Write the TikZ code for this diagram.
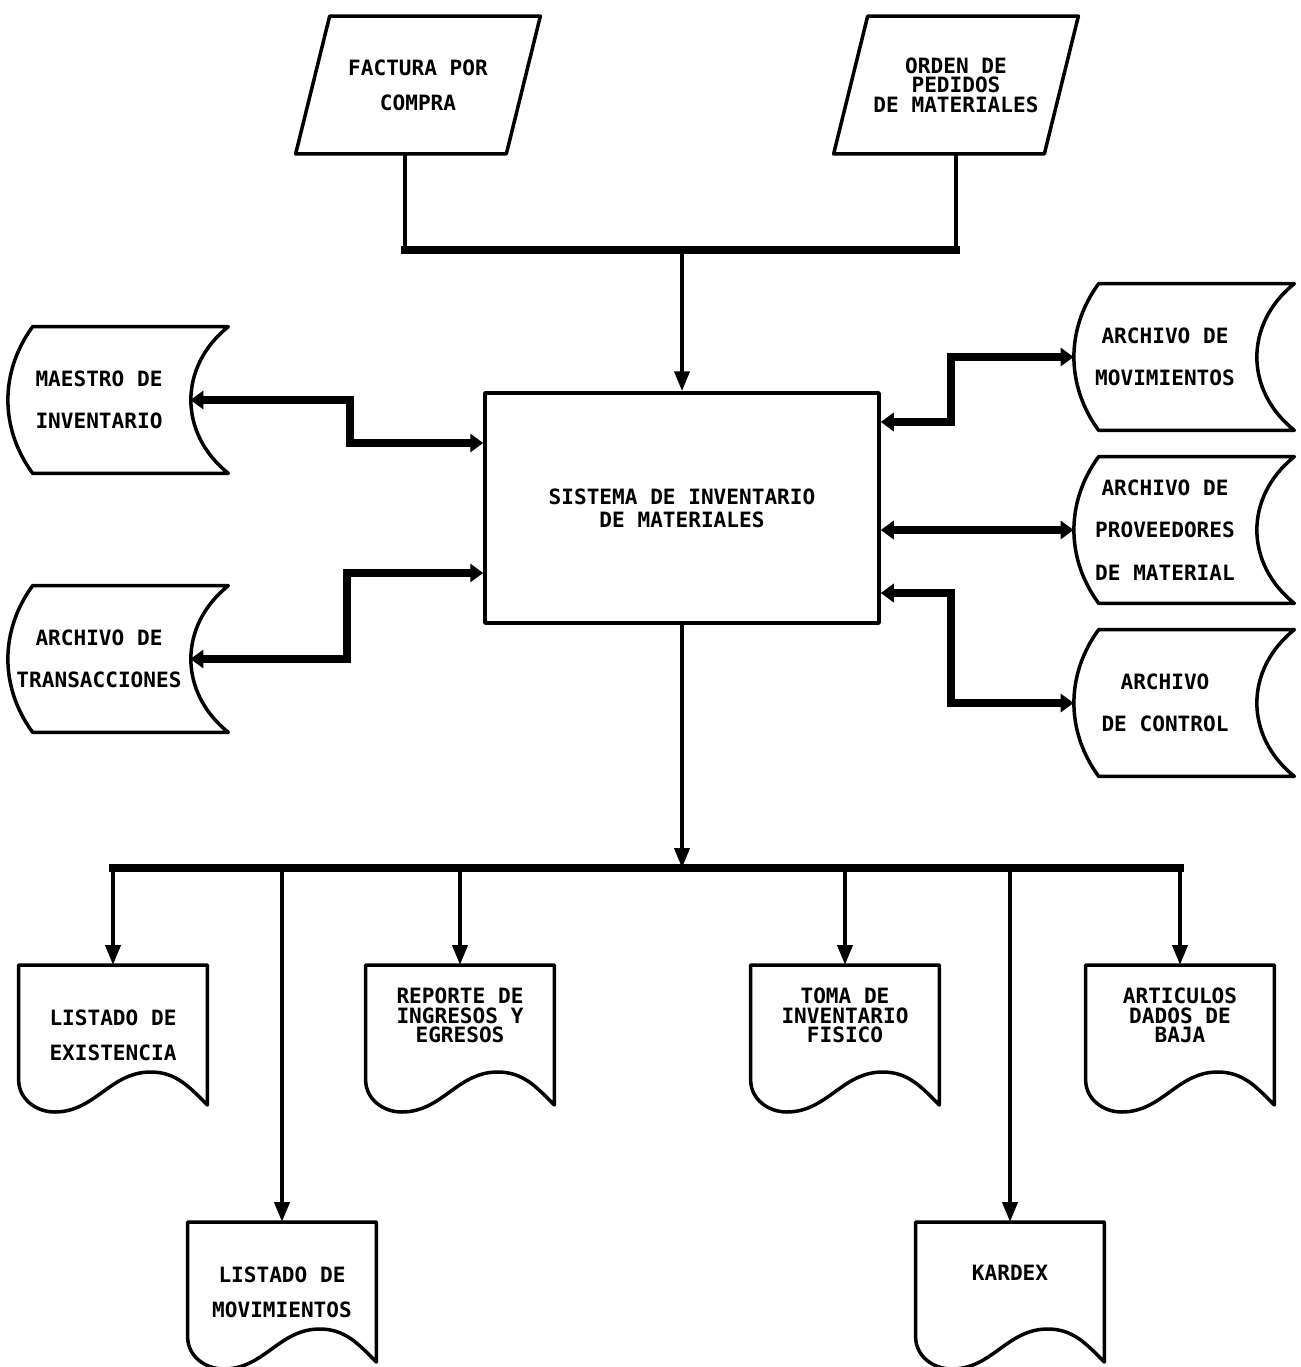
\documentclass[tikz,border=0pt]{standalone}
\usepackage{fontspec}
\newfontfamily\dosfont{DejaVu Sans Mono}
\usetikzlibrary{calc,arrows.meta,positioning}

\tikzset{
  borde/.style={line width=0.7mm, line join=round},
  fina/.style={line width=0.8mm},
  gruesa/.style={line width=1.6mm, line cap=rect},
  flecha/.style={-{Triangle[length=4mm,width=3mm]}},
  doble/.style={line width=1.6mm, {Triangle[length=2.6mm,width=3.6mm]}-{Triangle[length=2.6mm,width=3.6mm]}},
  junta/.style={font=\dosfont\bfseries\fontsize{12}{11}\selectfont, align=center},
  suelta/.style={font=\dosfont\bfseries\fontsize{12}{20}\selectfont, align=center},
  ancha/.style={font=\dosfont\bfseries\fontsize{12}{24}\selectfont, align=center},
  entrada/.style={minimum width=42mm, minimum height=27.4mm, inner sep=2pt},
  proceso/.style={draw, borde, minimum width=78.8mm, minimum height=46mm},
  archivo/.style={ancha, minimum width=36.4mm, minimum height=29.2mm, inner sep=2pt},
  documento/.style={anchor=north, minimum width=37.6mm, minimum height=28mm, inner sep=2pt},
  documento corto/.style={documento, minimum height=20mm}
}

\begin{document}
\begin{tikzpicture}[x=0.2mm,y=-0.2mm]
  \useasboundingbox (0,0) rectangle (1300,1367);

  % entradas
  \node[entrada,suelta] (factura) at (418,85) {FACTURA POR\\COMPRA};
  \node[entrada,junta] (orden) at (956,85) {ORDEN DE\\PEDIDOS\\DE MATERIALES};
  \foreach \e in {factura,orden}
    \draw[borde] ($(\e.north west)+(17,0)$) -- ($(\e.north east)+(17,0)$)
      -- ($(\e.south east)+(-17,0)$) -- ($(\e.south west)+(-17,0)$) -- cycle;

  % proceso
  \node[proceso,junta] (sistema) at (682,508) {SISTEMA DE INVENTARIO\\[2pt]DE MATERIALES};

  % archivos
  \node[archivo] (maestro) at (99,400) {MAESTRO DE\\INVENTARIO};
  \node[archivo] (transac) at (99,659) {ARCHIVO DE\\TRANSACCIONES};
  \node[archivo] (movim) at (1165,357) {ARCHIVO DE\\MOVIMIENTOS};
  \node[archivo] (proveed) at (1165,530) {ARCHIVO DE\\PROVEEDORES\\DE MATERIAL};
  \node[archivo] (control) at (1165,703) {ARCHIVO\\DE CONTROL};
  \foreach \n in {maestro,transac,movim,proveed,control}
    \draw[borde] ($(\n.north west)+(25,0)$) -- ($(\n.north east)+(38,0)$)
      .. controls +(-50,40) and +(-50,-40) .. ($(\n.south east)+(38,0)$)
      -- ($(\n.south west)+(25,0)$)
      .. controls +(-33,-45) and +(-33,45) .. ($(\n.north west)+(25,0)$) -- cycle;

  % reportes
  \node[documento,suelta] (existencia) at (113,965) {LISTADO DE\\EXISTENCIA};
  \node[documento corto,junta] (reporte) at (460,965) {REPORTE DE\\INGRESOS Y\\EGRESOS};
  \node[documento corto,junta] (toma) at (845,965) {TOMA DE\\INVENTARIO\\FISICO};
  \node[documento corto,junta] (articulos) at (1180,965) {ARTICULOS\\DADOS DE\\BAJA};
  \node[documento,suelta] (movlist) at (282,1222) {LISTADO DE\\MOVIMIENTOS};
  \node[documento corto,suelta] (kardex) at (1010,1222) {KARDEX};
  \foreach \d in {existencia,reporte,toma,articulos,movlist,kardex}
    \draw[borde] (\d.north west) -- (\d.north east) -- ($(\d.north east)+(0,140)$)
      to[out=135,in=0] ($(\d.north west)+(132,107)$)
      to[out=180,in=0] ($(\d.north west)+(36,147)$)
      to[out=180,in=-90] ($(\d.north west)+(0,115)$) -- cycle;

  % conexiones
  \coordinate (barra) at (682,250);
  \coordinate (bajo) at (682,868);
  \coordinate (fbase) at ([xshift=-2.6mm]factura.south);
  \draw[fina] (fbase) -- (fbase |- barra);
  \draw[fina] (orden.south) -- (orden.south |- barra);
  \draw[gruesa] (fbase |- barra) -- (orden.south |- barra);
  \draw[fina,flecha] (barra) -- (sistema.north);

  \draw[doble] (maestro.east) -- ++(160,0) |- ([yshift=13mm]sistema.west);
  \draw[doble] (transac.east) -- ++(157,0) |- ([yshift=-13mm]sistema.west);
  \draw[doble] (movim.west) -- ++(-123,0) |- ([yshift=17.2mm]sistema.east);
  \draw[doble] (proveed.west) -- (proveed.west -| sistema.east);
  \draw[doble] (control.west) -- ++(-123,0) |- ([yshift=-17mm]sistema.east);

  \draw[fina,flecha] (sistema.south) -- (bajo);
  \draw[gruesa] (existencia.north |- bajo) -- (articulos.north |- bajo);
  \foreach \d in {existencia,movlist,reporte,toma,kardex,articulos}
    \draw[fina,flecha] (\d.north |- bajo) -- (\d.north);
\end{tikzpicture}
\end{document}
